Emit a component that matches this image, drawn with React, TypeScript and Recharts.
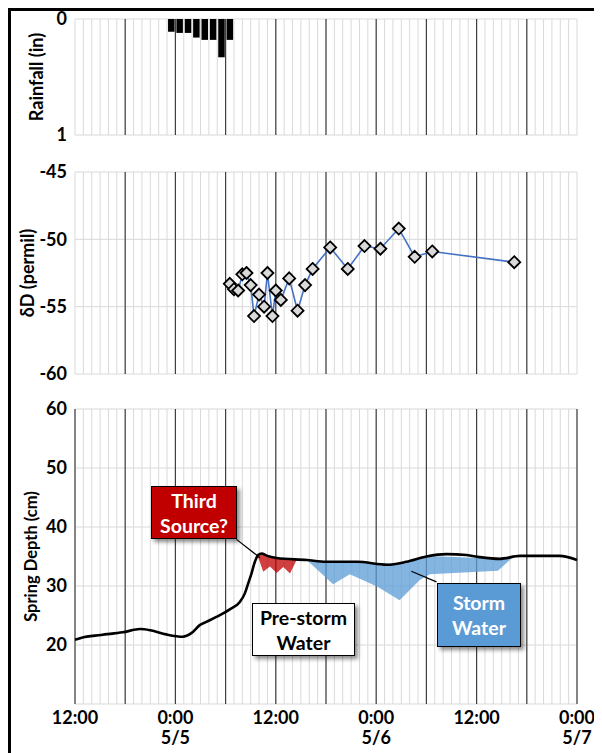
import React from 'react';
import { ComposedChart, Bar, Line, Area, XAxis, YAxis, CartesianGrid, ReferenceLine } from 'recharts';

// time axis: hours after 12:00 on 5/4
const hourTicks = Array.from({ length: 61 }, (_, i) => i);
const majorHours = [0, 6, 12, 18, 24, 30, 36, 42, 48, 54, 60];
const labelHours = [0, 12, 24, 36, 48, 60];
const timeLabels = ['12:00', '0:00', '12:00', '0:00', '12:00', '0:00'];
const dateLabels = ['', '5/5', '', '5/6', '', '5/7'];

// rainfall (in), hourly
const rainHours = [11.5, 12.5, 13.5, 14.5, 15.5, 16.5, 17.5, 18.5];
const rainInches = [0.11, 0.12, 0.12, 0.16, 0.18, 0.18, 0.33, 0.18];

// deuterium samples
const dDHours = [18.5, 19.0, 19.5, 20.0, 20.5, 21.0, 21.4, 22.0, 22.6, 23.0, 23.6, 24.0, 24.6, 25.6, 26.6, 27.5, 28.4, 30.5, 32.6, 34.6, 36.5, 38.7, 40.6, 42.7, 52.5];
const dDValues = [-53.3, -53.7, -53.8, -52.6, -52.5, -53.4, -55.7, -54.1, -55.0, -52.5, -55.7, -53.8, -54.5, -52.9, -55.3, -53.4, -52.2, -50.6, -52.2, -50.5, -50.7, -49.2, -51.3, -50.9, -51.7];

// spring depth (cm)
const depthHours = [0, 0.7, 3.1, 5.7, 7.8, 9.0, 10.9, 12.9, 13.9, 14.95, 15.75, 16.95, 18.5, 19.7, 20.3, 20.7, 21.1, 21.5, 21.9, 22.3, 22.9, 24.1, 27.7, 30.0, 33.7, 37.3, 39.6, 42.0, 44.4, 46.8, 48.35, 50.75, 53.2, 55.2, 57.9, 60];
const depthCm = [20.9, 21.2, 21.7, 22.15, 22.7, 22.5, 21.8, 21.4, 22.0, 23.4, 23.95, 24.8, 26.05, 27.3, 28.75, 30.45, 32.15, 34.1, 35.25, 35.5, 35.15, 34.75, 34.4, 34.1, 34.1, 33.6, 34.1, 35.0, 35.4, 35.25, 34.9, 34.6, 35.1, 35.1, 35.1, 34.4];

// shaded separations
const thirdHours = [21.8, 22.5, 23.3, 24.1, 24.9, 25.7, 26.5];
const thirdLow = [35.2, 32.4, 33.3, 32.2, 33.2, 32.1, 34.45];
const thirdHigh = [35.2, 35.45, 35.1, 34.75, 34.65, 34.55, 34.45];

const stormHours = [27.7, 30.85, 32.85, 36.1, 38.8, 41.2, 42.4, 50.55, 52.4];
const stormLow = [34.4, 30.3, 32.0, 29.9, 27.6, 31.0, 32.0, 32.6, 34.95];
const stormHigh = [34.4, 34.15, 34.1, 33.8, 33.8, 34.7, 35.1, 34.6, 34.95];

const rainData = rainHours.map((t, i) => ({ t, rain: rainInches[i] }));
const dDData = dDHours.map((t, i) => ({ t, dD: dDValues[i] }));
const depthData = depthHours.map((t, i) => ({ t, depth: depthCm[i] }));
const thirdData = thirdHours.map((t, i) => ({ t, range: [thirdLow[i], thirdHigh[i]] }));
const stormData = stormHours.map((t, i) => ({ t, range: [stormLow[i], stormHigh[i]] }));

const FONT = 'Lato, "Open Sans", sans-serif';
const MINOR = '#d9d9d9';
const MAJOR = '#404040';
const W = 591;
const YW = 64;
const MR = 25;
const tickStyle = { fill: '#000', fontSize: 18, fontWeight: 700 };

const XTick = (props: any) => {
  const { x, y, payload } = props;
  const i = labelHours.indexOf(payload.value);
  if (i < 0) return <g />;
  return (
    <text x={x} y={y} textAnchor="middle" fill="#000" fontSize={18} fontWeight={700}>
      <tspan x={x} dy={12}>{timeLabels[i]}</tspan>
      <tspan x={x} dy={20}>{dateLabels[i]}</tspan>
    </text>
  );
};

const Diamond = (props: any) => {
  const { cx, cy } = props;
  if (cx == null || cy == null) return null;
  const r = 6;
  return (
    <polygon
      points={`${cx},${cy - r} ${cx + r},${cy} ${cx},${cy + r} ${cx - r},${cy}`}
      fill="#d9d9d9"
      stroke="#000"
      strokeWidth={1.8}
    />
  );
};

function axisTitle(text: string, dx: number, size: number) {
  return {
    content: (p: any) => {
      const vb = p.viewBox || { x: 0, y: 0, width: 0, height: 0 };
      const x = vb.x + dx;
      const y = vb.y + vb.height / 2;
      return (
        <text
          x={x}
          y={y}
          transform={`rotate(-90, ${x}, ${y})`}
          textAnchor="middle"
          dominantBaseline="central"
          fontSize={size}
          fontWeight={700}
          fill="#000"
        >
          {text}
        </text>
      );
    },
  };
}

export default function App() {
  const darkLinesTop = majorHours.filter((h) => h !== 0 && h !== 60);
  return (
    <div
      style={{
        position: 'relative',
        width: 591,
        height: 742,
        borderLeft: '3px solid #000',
        borderTop: '3px solid #000',
        fontFamily: FONT,
        overflow: 'hidden',
      }}
    >
      {/* rainfall */}
      <div style={{ position: 'absolute', left: 0, top: -8 }}>
        <ComposedChart width={W} height={142} data={rainData} margin={{ top: 16, right: MR, bottom: 10, left: 0 }}>
          <CartesianGrid stroke={MINOR} strokeWidth={1} />
          <CartesianGrid stroke={MAJOR} strokeWidth={1.2} horizontal={false} verticalValues={darkLinesTop} />
          <XAxis dataKey="t" type="number" domain={[0, 60]} ticks={hourTicks} interval={0} hide />
          <YAxis
            type="number"
            domain={[0, 1]}
            ticks={[0, 1]}
            interval={0}
            reversed
            width={YW}
            axisLine={false}
            tickLine={false}
            tick={tickStyle}
            label={axisTitle('Rainfall (in)', 25, 18)}
          />
          <Bar dataKey="rain" fill="#000" barSize={6.5} isAnimationActive={false} />
        </ComposedChart>
      </div>

      {/* deuterium */}
      <div style={{ position: 'absolute', left: 0, top: 139 }}>
        <ComposedChart width={W} height={237} margin={{ top: 22, right: MR, bottom: 13, left: 0 }}>
          <CartesianGrid stroke={MINOR} strokeWidth={1} />
          <CartesianGrid stroke={MAJOR} strokeWidth={1.2} horizontal={false} verticalValues={darkLinesTop} />
          <XAxis dataKey="t" type="number" domain={[0, 60]} ticks={hourTicks} interval={0} hide allowDataOverflow />
          <YAxis
            type="number"
            domain={[-60, -45]}
            ticks={[-60, -55, -50, -45]}
            interval={0}
            width={YW}
            axisLine={false}
            tickLine={false}
            tick={tickStyle}
            label={axisTitle('δD (permil)', 16, 18)}
          />
          <Line
            data={dDData}
            dataKey="dD"
            type="linear"
            stroke="#4472c4"
            strokeWidth={1.6}
            dot={<Diamond />}
            isAnimationActive={false}
          />
        </ComposedChart>
      </div>

      {/* spring depth */}
      <div style={{ position: 'absolute', left: 0, top: 379 }}>
        <ComposedChart width={W} height={358} margin={{ top: 19, right: MR, bottom: 0, left: 0 }}>
          <CartesianGrid stroke={MINOR} strokeWidth={1} />
          <CartesianGrid stroke={MAJOR} strokeWidth={1.2} horizontal={false} verticalValues={majorHours} />
          <XAxis
            dataKey="t"
            type="number"
            domain={[0, 60]}
            ticks={hourTicks}
            interval={0}
            height={44}
            axisLine={false}
            tickLine={false}
            tick={<XTick />}
          />
          <YAxis
            type="number"
            domain={[10, 60]}
            ticks={[10, 20, 30, 40, 50, 60]}
            interval={0}
            tickFormatter={(v: number) => (v === 10 ? '' : String(v))}
            width={YW}
            axisLine={false}
            tickLine={false}
            tick={tickStyle}
            label={axisTitle('Spring Depth (cm)', 20, 16.5)}
          />
          <Area
            data={thirdData}
            dataKey="range"
            type="linear"
            stroke="none"
            fill="#c00000"
            fillOpacity={0.75}
            isAnimationActive={false}
          />
          <Area
            data={stormData}
            dataKey="range"
            type="linear"
            stroke="none"
            fill="#5b9bd5"
            fillOpacity={0.75}
            isAnimationActive={false}
          />
          <Line
            data={depthData}
            dataKey="depth"
            type="monotone"
            stroke="#000"
            strokeWidth={2.6}
            dot={false}
            isAnimationActive={false}
          />
          <ReferenceLine segment={[{ x: 19.3, y: 37.9 }, { x: 22.1, y: 34.8 }]} stroke="#000" strokeWidth={1.2} ifOverflow="visible" />
          <ReferenceLine segment={[{ x: 43.2, y: 30.7 }, { x: 40.2, y: 32.5 }]} stroke="#000" strokeWidth={1.2} ifOverflow="visible" />
        </ComposedChart>
      </div>

      {/* callouts */}
      <Callout left={140} top={475} width={86} height={53} bg="#c00000" color="#fff" lines={['Third', 'Source?']} />
      <Callout left={241} top={592} width={103} height={53} bg="#fff" color="#000" lines={['Pre-storm', 'Water']} />
      <Callout left={426} top={572} width={84} height={64} bg="#5b9bd5" color="#fff" lines={['Storm', 'Water']} />
    </div>
  );
}

function Callout(p: { left: number; top: number; width: number; height: number; bg: string; color: string; lines: string[] }) {
  return (
    <div
      style={{
        position: 'absolute',
        left: p.left,
        top: p.top,
        width: p.width,
        height: p.height,
        boxSizing: 'border-box',
        background: p.bg,
        color: p.color,
        border: '1.5px solid #000',
        boxShadow: '3px 3px 4px rgba(0,0,0,0.45)',
        display: 'flex',
        flexDirection: 'column',
        alignItems: 'center',
        justifyContent: 'center',
        fontWeight: 700,
        fontSize: 19.5,
        lineHeight: '25px',
      }}
    >
      {p.lines.map((l) => (
        <div key={l}>{l}</div>
      ))}
    </div>
  );
}
